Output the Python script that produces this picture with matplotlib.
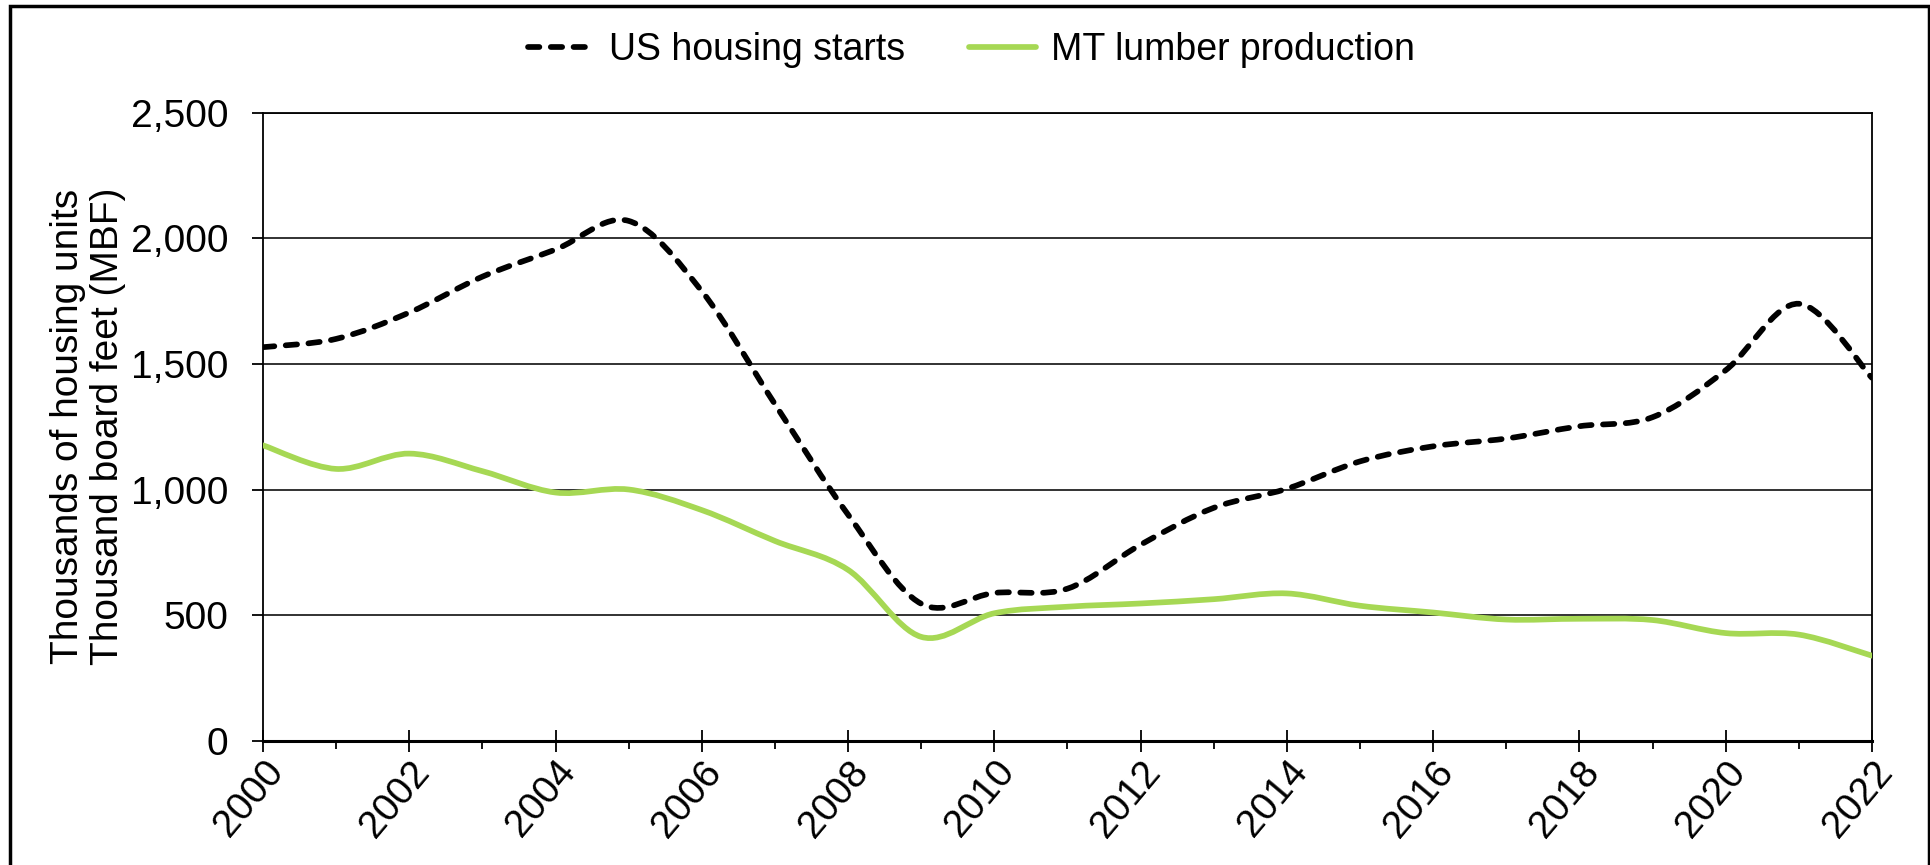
import matplotlib
matplotlib.use("Agg")
import matplotlib.pyplot as plt
from matplotlib.lines import Line2D
from matplotlib.patches import PathPatch, Rectangle
from matplotlib.path import Path
from matplotlib.ticker import FuncFormatter, MultipleLocator

plt.rcParams["font.family"] = ["Liberation Sans", "DejaVu Sans"]

# --- Data ----------------------------------------------------------------
years = list(range(2000, 2023))
housing_starts = [1567, 1600, 1705, 1848, 1956, 2070, 1790, 1340, 900, 545,
                  588, 605, 780, 927, 1003, 1112, 1172, 1203, 1252, 1288,
                  1475, 1740, 1445]
lumber_prod = [1176, 1082, 1143, 1073, 988, 1000, 918, 795, 680, 413,
               507, 533, 546, 563, 586, 537, 510, 482, 485, 480,
               428, 422, 338]

series_names = ["US housing starts", "MT lumber production"]
GREEN = "#a6d854"
LW = 4.1


def smooth_path(xs, ys):
    """Excel-style smoothed line: cubic Bezier through every point."""
    pts = list(zip(xs, ys))
    n = len(pts)
    verts = [pts[0]]
    codes = [Path.MOVETO]
    for i in range(n - 1):
        p0 = pts[max(i - 1, 0)]
        p1 = pts[i]
        p2 = pts[i + 1]
        p3 = pts[min(i + 2, n - 1)]
        c1 = (p1[0] + (p2[0] - p0[0]) / 6, p1[1] + (p2[1] - p0[1]) / 6)
        c2 = (p2[0] - (p3[0] - p1[0]) / 6, p2[1] - (p3[1] - p1[1]) / 6)
        verts += [c1, c2, p2]
        codes += [Path.CURVE4] * 3
    return Path(verts, codes)


fig = plt.figure(figsize=(19.31, 8.65), dpi=100)
ax = fig.add_axes([0.1362, 0.1439, 0.8332, 0.7255])

dash = (0, (2.0, 2.0))
ax.add_patch(PathPatch(smooth_path(years, housing_starts), facecolor="none",
                       edgecolor="black", lw=LW, linestyle=dash,
                       capstyle="round", zorder=4))
ax.add_patch(PathPatch(smooth_path(years, lumber_prod), facecolor="none",
                       edgecolor=GREEN, lw=LW, capstyle="round", zorder=3))

ax.set_xlim(2000, 2022)
ax.set_ylim(0, 2500)

# gridlines / frame
ax.set_yticks(range(0, 2501, 500))
ax.yaxis.set_major_formatter(FuncFormatter(lambda v, p: f"{v:,.0f}"))
ax.grid(axis="y", color="#222222", lw=1.3, zorder=1)
ax.set_axisbelow(True)
for side in ["left", "right", "top"]:
    ax.spines[side].set_linewidth(1.3)
ax.spines["bottom"].set_linewidth(2.2)
ax.spines["bottom"].set_zorder(5)

ax.xaxis.set_major_locator(MultipleLocator(2))
ax.xaxis.set_minor_locator(MultipleLocator(1))
ax.tick_params(axis="x", which="major", direction="inout", length=15.6,
               width=1.3, pad=2, labelsize=28)
ax.tick_params(axis="x", which="minor", direction="out", length=5.8, width=1.3)
ax.tick_params(axis="y", direction="out", length=8, width=1.3, pad=17,
               labelsize=28)
for lab in ax.get_xticklabels():
    lab.set_rotation(50)
    lab.set_ha("right")
    lab.set_va("top")
    lab.set_rotation_mode("anchor")

fig.text(88 / 1931, 0.1439 + 0.7255 / 2,
         "Thousands of housing units\nThousand board feet (MBF)",
         rotation=90, ha="center", va="center", fontsize=28, linespacing=1.15)

handles = [
    Line2D([], [], color="black", lw=LW, linestyle=dash, dash_capstyle="round"),
    Line2D([], [], color=GREEN, lw=LW, solid_capstyle="round"),
]
fig.legend(handles, series_names, loc="center", bbox_to_anchor=(0.503, 0.942),
           ncol=2, frameon=False, fontsize=27, handlelength=1.78,
           handletextpad=0.4, columnspacing=1.7)

# outer chart border
fig.add_artist(Rectangle((10 / 1931, -0.05), 1919 / 1931, 1.05 - 6 / 865,
                         transform=fig.transFigure, fill=False,
                         edgecolor="black", lw=2.5, clip_on=False))

fig.savefig("out.png", dpi=100)
